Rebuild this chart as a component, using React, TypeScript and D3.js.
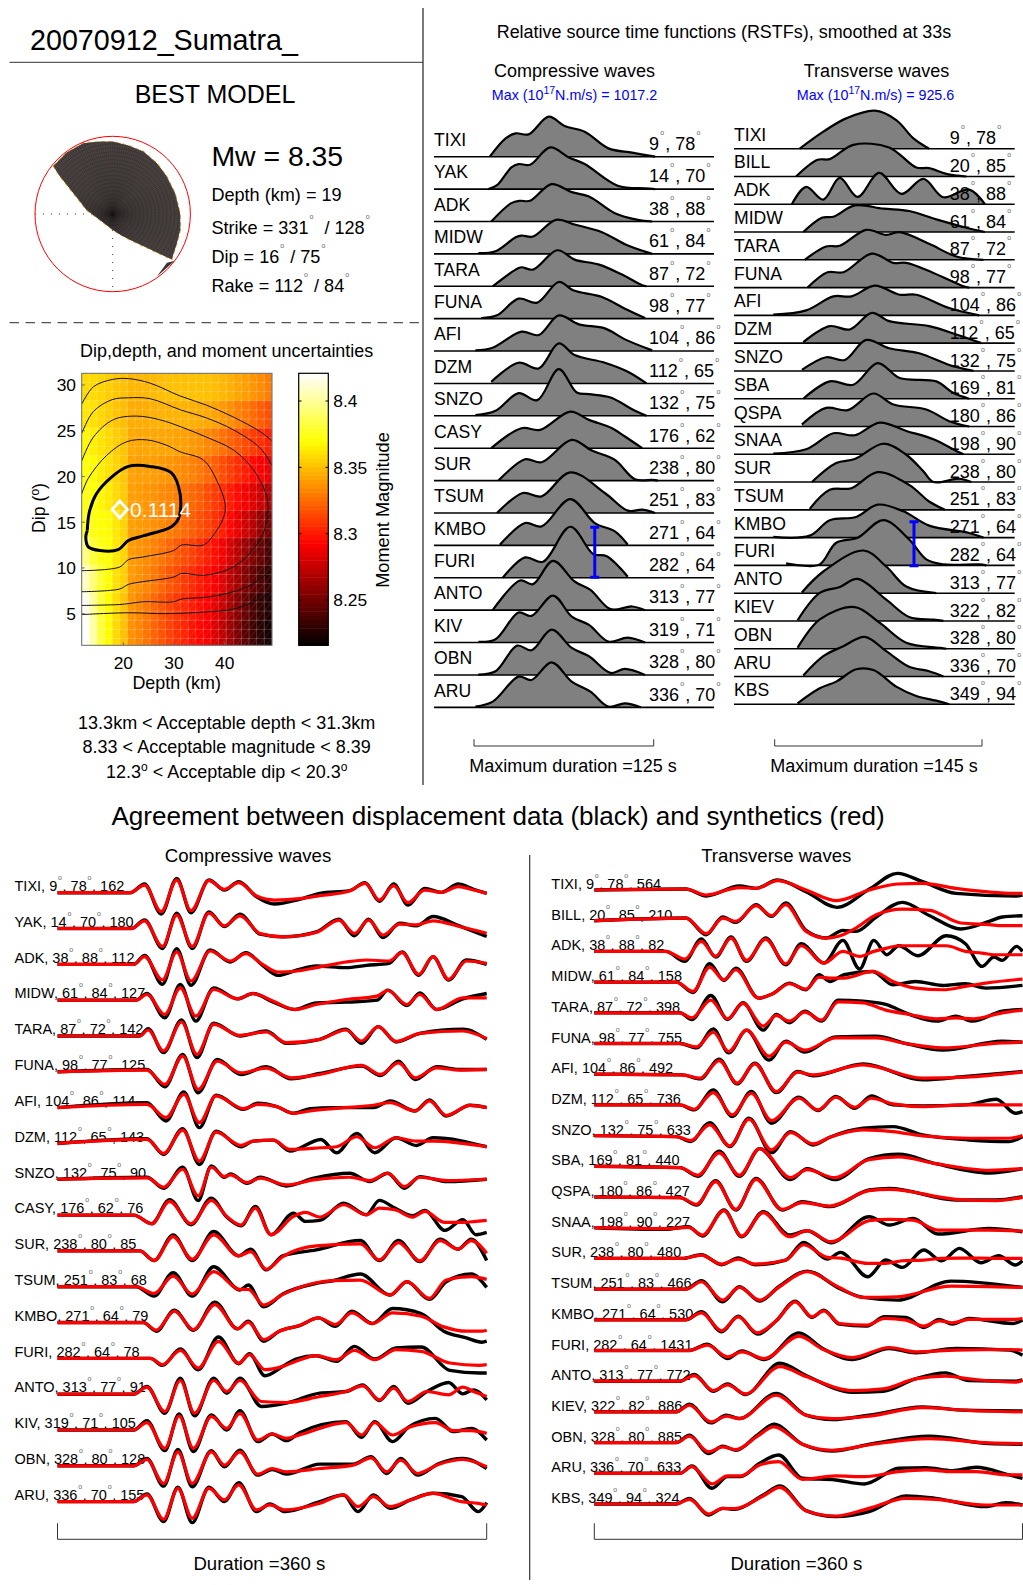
import React from "react";
import * as d3 from "d3";

const FONT = "'Liberation Sans', Arial, sans-serif";

// ---- stations: name, azimuth, distance, peak displacement (microns)
const pStations = ["TIXI","YAK","ADK","MIDW","TARA","FUNA","AFI","DZM","SNZO","CASY","SUR","TSUM","KMBO","FURI","ANTO","KIV","OBN","ARU"];
const pAzimuth = [9,14,38,61,87,98,104,112,132,176,238,251,271,282,313,319,328,336];
const pDistance = [78,70,88,84,72,77,86,65,75,62,80,83,64,64,77,71,80,70];
const pPeak = [162,180,112,127,142,125,114,143,90,76,85,68,79,78,91,105,128,155];

const sStations = ["TIXI","BILL","ADK","MIDW","TARA","FUNA","AFI","DZM","SNZO","SBA","QSPA","SNAA","SUR","TSUM","KMBO","FURI","ANTO","KIEV","OBN","ARU","KBS"];
const sAzimuth = [9,20,38,61,87,98,104,112,132,169,180,198,238,251,271,282,313,322,328,336,349];
const sDistance = [78,85,88,84,72,77,86,65,75,81,86,90,80,83,64,64,77,82,80,70,94];
const sPeak = [564,210,82,158,398,755,492,736,633,440,427,227,480,466,530,1431,772,886,885,633,324];

// ---- relative source time functions, time (s) and relative amplitude
const rstfPTimes = [
  [11,22,29,38,52,63,77,93.5,110,126],
  [10,16,26,31,39,53,66,77,100,119,126],
  [12,26,32,39,54,68,80,98,114,124],
  [3,15,29,33,41,57,70,89,107,124],
  [13,29,33,41,58,70,87,103,117,120],
  [5,16,31,44,59,69,89,105,119],
  [1,13,33,45,59,73,91,105,124],
  [12,31,45,59,70,91,107,120],
  [1,15,31,44,59,71.5,80,95,110,120],
  [12,33,46,67,80,96,105,117],
  [17,35.5,47,68,82,98,112,124,128],
  [16,34,47,67,91,107,117,126],
  [18,35.5,47,67,84,98,107],
  [20,35.5,48,67,83,92,107],
  [13,32,41,55,70,81,95,110,119],
  [3,15,31,40,55,68,80,93.5,107,119],
  [3,15,30,40,54,68,80,95,105,119],
  [1,13,31,40,54,68,81,93.5,105,116],
];
const rstfPAmps = [
  [0,55,70,67,120,92,75,25,12,0],
  [0,12,65,75,73,125,95,75,10,2,0],
  [0,55,62,62,112,88,75,25,5,0],
  [2,8,50,55,52,102,88,65,25,0],
  [0,50,57,50,108,80,65,35,3,0],
  [2,10,60,48,110,85,65,30,2],
  [2,10,58,48,107,80,68,35,2],
  [5,62,45,120,85,62,35,0],
  [2,15,68,47,140,70,65,55,20,0],
  [0,60,55,110,85,60,35,0],
  [0,64,55,122,90,62,4,2,0],
  [0,60,50,122,60,7,10,0],
  [2,67,57,139,67,42,2],
  [0,61,48,153,71,65,3],
  [0,89,78,148,86,61,3,11,0],
  [2,10,90,80,141,78,53,3,15,0],
  [1,11,88,74,136,81,56,6,18,0],
  [2,17,92,82,135,77,47,2,12,0],
];
const rstfSTimes = [
  [17.5,34,50,70,85,97,108],
  [15,30,38.5,55,80,99,108,120,134],
  [12,22,34,45.5,58,73,88.6,104,118,136,147],
  [20,33,41,56,76,94,113,134,147],
  [21,36,45.5,64,78,87.4,108,127,146],
  [23,37,48,68,83,92,111,132,136],
  [-1,22,41,53.6,70,87.4,99,122,143],
  [20,38.5,52.5,68,80,108,127,144.5],
  [19,36,49,64,80,101,122,139],
  [20,38.5,55,72,87.4,113,125,136],
  [19,36,51,69,83,106,122,136],
  [-1,22,41,56,73.4,92,111,127,132],
  [26,43,56,76,92,104,111,129,137.5],
  [24.5,38.5,53.6,72,94,108,119],
  [-1,24.5,38.5,57,72,90,108,136,146],
  [8,17.5,31.5,43,58,76,94,106,118,143,148],
  [19,34,62,78,92,113],
  [16,31.5,45.5,58,78,94,111,118],
  [16,31.5,56,73.4,92,115,120],
  [20,34,48,63,78,94,108,118],
  [16,31.5,43,57,69,85,99,113,122],
];
const rstfSAmps = [
  [0,51,91,114,86,31,0],
  [0,50,52,95,87,27,25,8,0],
  [0,52,14,79,22,94,31,76,21,44,0],
  [0,43,46,80,70,63,38,13,0],
  [0,40,42,90,75,83,48,10,0],
  [0,46,46,102,74,74,44,4,0],
  [2,15,57,57,89,62,62,22,0],
  [3,51,41,91,66,51,26,0],
  [3,41,33,93,68,53,18,0],
  [0,52,42,107,62,52,17,0],
  [6,56,49,99,66,51,16,0],
  [2,15,63,57,95,70,45,10,0],
  [0,57,69,115,82,32,0,10,0],
  [3,60,65,113,75,25,0],
  [2,6,52,62,99,79,36,14,0],
  [6,0,3,68,83,136,78,18,3,3,0],
  [2,65,128,80,20,0],
  [2,84,102,126,64,12,4,0],
  [3,88,125,78,18,3,0],
  [3,61,91,119,76,29,16,0],
  [3,48,68,105,103,53,25,11,0],
];

// ---- P waveforms: sample time (s), data and synthetic amplitude
const pwTimes = [
  [0,61,73,87,100,112,127,140,152,167,182,203,220,245,258,270,282,294,308,322,336,349,360],
  [0,62,73,88,100,113,127,140,153,170,189,217,236,249,261,273,287,301,315,337,360],
  [0,64,73,88,100,112,128,145,158,172,185,201,217,242,259,278,289,303,315,328,343,360],
  [0,66,75,90,103,116,131,151,164,181,199,217,242,268,277,293,304,318,340,360],
  [0,69,76,89,104,117,131,153,175,192,220,242,255,269,284,304,340,360],
  [0,75,90,105,118,134,154,175,196,220,255,271,286,300,318,337,360],
  [0,75,91,106,119,133,156,168,184,198,212,231,265,279,300,312,326,346,360],
  [0,75,89,105,119,133,154,164,181,195,221,234,251,266,284,301,315,360],
  [0,75,89,105,118,129,140,145,159,170,192,215,245,262,277,291,304,327,360],
  [0,64,79,94,112,129,142,154,166,179,198,208,220,240,259,270,283,298,308,325,340,351,360],
  [0,69,81,97,113,131,152,162,175,189,217,254,270,286,304,321,336,347,360],
  [0,66,81,97,113,131,153,160,173,189,217,231,254,279,293,312,326,347,360],
  [0,72,83,98,114,132,151,160,173,186,203,219,233,247,264,281,305,324,343,356,360],
  [0,78,88,103,118,135,152,161,174,189,200,217,234,249,266,284,305,329,354,360],
  [0,64,75,90,103,115,131,142,153,171,192,220,242,256,270,282,294,310,328,340,349,360],
  [0,64,75,90,102,114,129,142,153,168,180,192,203,242,255,266,281,295,317,332,347,360],
  [0,64,75,89,101,113,129,140,153,168,180,192,220,248,263,276,288,302,320,340,360],
  [0,64,75,89,101,113,127,140,152,167,178,191,220,240,252,265,279,296,315,339,353,360],
];
const pwBlack = [
  [0,0,26,-64,43,-60,38,8,33,-12,-34,-20,-2,6,30,-26,26,-37,13,1,26,10,-2],
  [0,0,26,-60,46,-60,50,6,43,-17,-25,-10,28,-22,28,-27,16,8,36,8,-24],
  [0,0,27,-60,47,-63,43,7,35,-3,-33,-17,-5,-10,-3,3,37,-33,23,-47,13,0],
  [0,0,20,-53,47,-63,37,4,20,-6,-28,-8,-6,0,30,-16,22,-28,4,20],
  [0,0,22,-50,48,-65,38,0,15,-22,-10,20,-22,28,-18,8,20,-10],
  [0,7,-45,52,-63,37,-8,15,-21,-5,17,-11,32,-23,15,7,7],
  [0,15,-40,47,-60,37,-5,13,3,-17,-3,0,0,20,-10,23,-25,7,0],
  [0,14,-33,44,-63,37,-10,7,10,-23,12,-28,30,-28,17,-6,17,-10],
  [0,6,-27,36,-64,40,6,16,-12,6,-20,3,18,-7,18,-27,8,-7,0],
  [0,0,-26,46,-29,51,-6,-32,26,-59,6,-19,-16,36,1,44,21,-2,14,-46,-14,-59,-52],
  [0,0,-29,48,-29,58,-15,5,-57,-15,3,31,-29,31,-32,35,5,35,-29],
  [0,0,-28,42,-28,60,-10,5,-60,-22,10,18,38,-25,15,-38,15,38,-2],
  [0,0,-26,37,-23,61,-19,4,-56,-26,-9,14,-11,34,-3,42,27,-26,-46,-59,-56],
  [0,0,-21,28,-34,64,-16,14,-52,-24,-2,8,-9,36,-2,31,34,-36,-44,-44],
  [0,0,23,-57,48,-65,48,3,48,-37,-27,3,8,28,-19,23,-27,8,35,1,13,-17],
  [0,0,28,-62,48,-65,45,0,58,-35,-12,-32,-8,25,-22,25,-35,10,35,-5,5,-30],
  [0,0,22,-61,49,-63,45,-3,47,-28,-11,-25,5,5,27,-23,22,-28,7,22,-8],
  [0,0,23,-60,43,-63,43,0,57,-30,-7,-30,0,20,-30,20,-20,5,25,15,-30,-3],
];
const pwRed = [
  [0,0,23,-57,38,-54,36,10,30,-10,-22,-18,-9,5,28,-22,21,-30,8,1,18,8,-2],
  [0,0,23,-54,40,-54,46,8,38,-15,-25,-12,25,-15,25,-20,13,11,23,6,-14],
  [0,0,23,-47,37,-50,40,10,32,0,-23,-20,-10,7,13,10,35,-30,23,-45,10,3],
  [0,0,17,-43,37,-48,32,4,20,-3,-28,-13,2,12,29,-13,17,-28,7,7],
  [0,0,18,-45,42,-55,35,2,12,-20,-10,18,-15,28,-16,8,15,-8],
  [0,5,-38,47,-53,32,-3,11,-18,-8,19,-8,27,-18,12,5,7],
  [0,10,-30,40,-45,35,-3,10,3,-17,-10,-3,7,15,-10,20,-23,7,0],
  [0,12,-30,40,-53,34,-6,7,10,-18,-13,-10,20,-13,17,7,7,-10],
  [0,4,-24,30,-50,36,8,13,-10,3,-17,-2,6,-4,18,-22,6,-4,0],
  [0,0,-26,41,-26,44,-4,-30,21,-59,-4,8,-6,31,1,21,16,-6,11,-22,-22,-19,-16],
  [0,0,-29,43,-25,48,-15,-2,-55,-17,15,21,-27,25,-30,31,5,31,-7],
  [0,0,-20,32,-22,45,-8,-8,-55,-23,12,18,20,-25,15,-35,20,30,22],
  [0,0,-23,34,-21,54,-19,1,-51,-26,-9,14,-6,29,-3,29,19,-13,-26,-26,-23],
  [0,0,-19,24,-29,51,-14,11,-34,-24,-9,8,-4,24,-4,26,21,-14,-21,-19],
  [0,0,21,-52,41,-57,41,8,41,-22,-25,-7,8,25,-17,18,-22,8,-2,21,8,-7],
  [0,0,22,-55,42,-55,40,5,50,-30,-12,-25,-15,22,-15,22,-15,8,22,-2,-2,-10],
  [0,0,19,-53,42,-53,42,2,42,-25,-8,-18,-8,2,24,-18,17,-23,5,19,-3],
  [0,0,20,-53,40,-50,40,5,50,-25,-10,-25,-5,20,-15,15,-15,5,25,0,-5,-10],
];

// ---- SH waveforms
const swTimes = [
  [0,77,94,122,136,154,178,204,231,255,276,304,354,360],
  [0,77,94,108,119,136,149,161,178,195,209,220,237,259,282,308,332,343,360],
  [0,60,76,90,102,115,128,144,161,174,193,209,223,235,246,256,272,296,312,326,336,343,355,360],
  [0,69,83,97,109,119,138,150,164,178,189,198,210,234,251,270,293,312,329,360],
  [0,72,82,98,112,125,142,153,164,177,191,205,226,245,265,288,304,318,343,360],
  [0,72,86,100,113,128,147,161,177,203,237,262,293,343,360],
  [0,74,89,105,120,135,153,171,184,226,276,312,360],
  [0,72,84,100,116,132,149,172,188,203,219,233,251,276,312,338,354,360],
  [0,69,81,97,114,130,149,165,184,198,226,251,276,315,349,360],
  [0,72,87,105,122,139,165,179,202,231,256,287,332,360],
  [0,72,86,102,119,136,158,175,198,231,248,304,338,360],
  [0,60,79,91,109,124,142,164,179,199,231,248,268,289,332,360],
  [0,74,90,107,121,135,161,176,196,207,230,245,259,277,292,307,325,340,354,360],
  [0,77,90,108,122,139,155,179,206,226,255,300,360],
  [0,77,90,107,121,137,153,169,183,193,206,229,244,262,277,290,301,315,352,360],
  [0,80,95,112,124,143,172,192,217,248,270,304,349,360],
  [0,72,84,100,112,127,156,178,217,243,270,295,315,354,360],
  [0,69,80,98,111,122,153,178,200,231,276,312,360],
  [0,69,80,96,108,119,137,151,175,200,234,282,332,360],
  [0,72,82,99,112,123,139,155,175,203,227,256,279,301,321,349,360],
  [0,69,80,96,108,118,142,156,178,203,231,262,287,329,346,360],
];
const swBlack = [
  [0,3,-18,12,5,30,-5,-52,2,50,25,-10,-18,-15],
  [0,8,-42,11,-5,48,13,53,-29,-52,-29,-32,11,55,15,-25,-2,11,15],
  [0,0,-30,37,-17,43,-30,40,-40,23,-35,33,-53,33,-10,17,-13,47,23,-45,-17,-27,15,0],
  [0,0,-31,55,5,42,-48,-35,-3,-23,22,2,22,32,-8,2,-10,-5,-18,-10],
  [0,0,-20,52,-20,30,-52,-5,-30,5,-25,38,35,25,-5,-25,-10,-25,5,10],
  [0,0,-13,44,-28,40,-50,7,-26,20,22,0,-20,7,4],
  [0,-2,-14,45,-29,33,-55,8,-5,31,-17,-7,8],
  [0,0,-15,45,-35,40,-55,23,-17,25,-10,27,0,-3,0,17,-25,-20],
  [0,-3,-18,39,-33,52,-51,12,-28,-5,22,27,2,-13,-18,-3],
  [0,-4,-30,45,-30,53,-40,-7,-40,23,36,8,-20,-7],
  [0,-2,-24,49,-39,56,-39,-14,-29,21,26,-9,-9,1],
  [0,-5,3,-25,53,-27,48,-22,-9,-45,33,8,28,-19,-2,-12],
  [0,0,11,-19,1,-19,-5,48,-2,18,-55,-5,-27,25,-7,30,-13,8,-20,-7],
  [0,0,25,-38,7,-36,7,54,2,-25,-33,24,5],
  [0,0,24,-36,11,-43,-3,56,7,29,-13,-19,9,7,-23,1,-13,4,-11,-1],
  [0,0,19,-24,-1,-27,53,6,-27,6,-7,6,1,-14],
  [0,0,20,-30,-8,-40,54,17,-33,-30,7,25,2,0,4],
  [0,0,23,-33,-10,-20,55,-10,-23,-10,15,5,3],
  [0,0,22,-33,-11,-23,22,55,-5,-25,-3,19,-3,-5],
  [0,0,22,-45,-10,-10,30,55,-15,-20,-32,15,17,8,18,-5,-15],
  [0,0,17,-33,-13,-16,27,54,-20,-38,-23,24,17,-8,4,-3],
];
const swRed = [
  [0,3,-15,7,5,28,0,-32,0,18,20,5,-10,-10],
  [0,8,-39,8,-2,45,15,48,-32,-52,-42,-22,18,35,31,-7,-12,-15,-15],
  [0,0,-23,30,-15,40,-27,37,-37,17,-35,0,-15,0,10,17,17,17,0,-5,-10,-10,-10,-10],
  [0,0,-28,45,7,37,-48,-35,-5,-21,15,12,12,32,2,-18,-23,-13,-3,9],
  [0,0,-15,38,-18,28,-40,-8,-25,2,-22,33,30,8,-5,-18,-15,-18,0,8],
  [0,0,-10,34,-24,40,-38,4,-20,17,17,0,-13,2,4],
  [0,-2,-12,41,-27,31,-52,6,-2,28,-12,-9,6],
  [0,0,-13,37,-30,35,-47,20,-15,23,-7,20,3,-5,0,0,0,0],
  [0,-3,-15,32,-31,49,-43,9,-25,-5,17,12,-1,-8,-8,0],
  [0,-4,-27,40,-27,53,-34,-10,-34,20,28,8,-12,-7],
  [0,-2,-22,46,-37,53,-37,-17,-27,19,23,-7,-11,-1],
  [0,-3,1,-22,51,-25,45,-27,-9,-42,21,25,23,-7,-7,-10],
  [0,0,10,-17,-2,-17,-5,41,3,1,-15,-15,-7,-5,0,1,1,0,0,0],
  [0,0,22,-33,5,-33,5,52,5,-25,-23,9,5],
  [0,0,21,-33,9,-39,-3,54,9,27,-11,-16,4,-1,-19,-3,-9,1,1,4],
  [0,0,16,-19,-4,-24,43,4,-21,9,-4,1,3,1],
  [0,0,17,-28,-11,-38,44,14,-28,-23,7,15,7,-3,2],
  [0,0,20,-30,-13,-20,50,-10,-20,-13,13,5,0],
  [0,0,19,-28,-13,-21,19,47,-5,-23,-5,12,-1,-3],
  [0,0,20,-32,-8,-8,25,35,-18,-8,-10,5,10,5,5,-5,-5],
  [0,0,14,-30,-13,-14,24,50,-20,-36,-13,17,14,-3,-3,-3],
];

// ---- dip/depth grid: moment magnitude, each row is a 3 degree band (top = 30 deg), Mw = 8 + v/1000
const gridDepthStart = 11.8;
const gridDepthStep = 1.5;
const gridDipTop = 31.28;
const gridDipStep = 3;
const gridMw = [
  [358,358,356,354,352,350,347,347,347,348,349,350,350,350,350,350,350,349,347,345,342,340,337,334,330],
  [362,360,357,354,351,349,344,344,344,345,346,346,346,346,345,344,343,341,338,335,331,328,324,320,316],
  [367,364,361,358,354,351,343,342,342,342,342,342,341,340,338,336,333,330,326,322,318,314,310,306,302],
  [370,368,364,360,356,352,341,340,340,339,338,337,335,333,331,328,324,320,315,310,305,300,295,290,286],
  [372,370,367,363,358,353,340,339,337,336,334,332,329,326,323,320,315,310,305,300,295,289,283,276,270],
  [376,372,369,368,362,356,340,339,337,335,333,330,327,324,320,316,312,307,301,294,286,278,270,260,252],
  [395,380,372,369,362,356,339,337,334,331,327,323,319,315,311,306,301,296,289,280,271,262,254,246,238],
  [408,392,378,369,360,355,339,336,332,328,323,318,314,309,305,300,296,290,283,273,264,255,246,239,232],
  [418,400,380,368,359,351,337,333,328,323,318,313,308,304,300,296,292,285,276,266,256,247,238,231,226],
  [420,402,381,368,358,350,336,332,327,322,317,312,307,303,298,294,290,282,273,263,253,243,235,228,222],
];

// contours of misfit, [depth km, dip deg]
const bestContour = [[12.9,14.1],[13.3,16.1],[14.7,18.1],[17.4,19.8],[21,21.1],[25.3,21.1],[29.5,20.4],[31.2,18.1],[30.9,15.4],[29.5,14.5],[23.9,13.5],[21,13],[19,12],[15.4,11.9],[13.1,12.3],[12.6,13.4],[12.9,14.1]];
const thinContours = [
  [[11.8,18.1],[13.1,19.8],[16.7,22.3],[20.7,23.8],[24.6,24],[28.6,23.4],[31.2,22.7],[35.8,21.8],[38.4,19.6],[40.1,16.9],[39.7,15.4],[37.8,13.6],[35.8,12.5],[31.5,12.5],[29.9,11.9],[23.9,11.2],[21,10.9],[19.3,10.1],[11.8,9.7]],
  [[11.8,21.7],[14.1,24.3],[18,26.2],[22.6,26.6],[27.2,26.2],[31.5,25.4],[36.4,24.3],[41.7,22.9],[45.7,20.7],[48.3,17.8],[48.5,16.1],[47.6,13.8],[45,11.6],[41,9.9],[35.8,9.2],[31.5,9.4],[29.9,9],[23.9,8.5],[21,8.2],[19.3,7.7],[11.8,7.4]],
  [[11.8,24.7],[14.1,27.1],[17.8,28.4],[21,28.6],[25.3,28.5],[31.2,27.3],[36.4,26.4],[41.7,25.1],[47,23.1],[49.3,21.2]],
  [[49.3,9.9],[45.7,8.3],[41.7,7.4],[36.4,6.8],[31.5,6.6],[29.9,6.3],[23.9,6.3],[21,6.1],[19.3,6],[11.8,5.9]],
  [[11.8,27.9],[14.1,29.8],[17.8,30.6],[21,30.7],[25.3,30.2],[31.2,28.8],[36.4,27.8],[41.7,26.5],[47,24.9],[49.3,23.9]],
  [[49.3,7.4],[45.7,6.3],[41.7,5.5],[36.4,5.2],[28.6,5],[21,5.1],[11.8,4.9]],
];
const depthTicks = [20,30,40];
const dipTicks = [5,10,15,20,25,30];
const mwTicks = [8.25,8.3,8.35,8.4];
const bestDepth = 19.3;
const bestDip = 16.4;

// focal mechanism outline: [azimuth deg, radius fraction]
const mechanismOutline = [[309,0.98],[323,0.987],[337.5,0.985],[350,0.945],[0.5,0.93],[13,0.903],[26,0.894],[41,0.864],[55,0.845],[71.7,0.845],[90,0.867],[103,0.892],[114.6,0.906],[127.5,0.957],[129,0.86],[130,0.8],[134.7,0.615],[146,0.4],[160,0.28],[178,0.206],[279,0.34],[295,0.51],[300,0.62],[302.5,0.7],[305.6,0.833],[307,0.89]];
const mechanismSliver = [[145,0.987],[127,1],[132,0.94]];

// ---- helpers
const hot = (t: number) => {
  const c = (v: number) => Math.round(255 * Math.max(0, Math.min(1, v)));
  return d3.rgb(c(t / 0.375), c((t - 0.375) / 0.375), c((t - 0.75) / 0.25)).formatRgb();
};
const mwColorT = d3.scaleLinear().domain([8.216, 8.42]).range([0, 1]);

const waveLine = d3.line<[number, number]>().curve(d3.curveMonotoneX);
const rstfLine = d3.line<[number, number]>().curve(d3.curveCatmullRom.alpha(0.5));
const rstfArea = d3.area<[number, number]>().curve(d3.curveCatmullRom.alpha(0.5));

function T({ x, y, size = 18, anchor = "start", fill = "#000", children, rot }: any) {
  return (
    <text x={x} y={y} fontSize={size} textAnchor={anchor} fill={fill} fontFamily={FONT}
      style={{ whiteSpace: "pre" }} transform={rot ? `rotate(${rot} ${x} ${y})` : undefined}>
      {children}
    </text>
  );
}

// pieces of text with the small raised ring that MATLAB draws for ^o between them
function ringed(parts: string[], rise: number, pre = 1, post = 1, size = 7) {
  const out: any[] = [parts[0]];
  parts.slice(1).forEach((p, i) => {
    out.push(<tspan key={i + "r"} dx={pre} dy={-rise} fontSize={size} fill="#666">o</tspan>);
    if (p !== "") out.push(<tspan key={i + "t"} dx={post} dy={rise}>{p}</tspan>);
  });
  return out;
}

function Bracket({ x0, x1, y, tick }: any) {
  return <path d={`M${x0},${y - tick}V${y}H${x1}V${y - tick}`} fill="none" stroke="#333" strokeWidth={1} />;
}

function RstfPanel({ stations, az, dist, times, amps, x0, pxPerS, firstBase, stepBase, lineX0, lineX1, nameDy, labelDy, labelX, bar }: any) {
  const x = d3.scaleLinear().domain([0, 100]).range([x0, x0 + 100 * pxPerS]);
  const h = d3.scaleLinear().domain([0, 150]).range([0, 50]);
  const base = d3.scaleLinear().domain([0, 1]).range([firstBase, firstBase + stepBase]);
  return (
    <g>
      {stations.map((s: string, i: number) => {
        const b = base(i);
        // never below the baseline where the spline undershoots
        const pts = times[i].map((t: number, k: number) => [x(t), b - h(amps[i][k])]);
        rstfArea.y0(b).x((d) => d[0]).y1((d) => d[1]);
        rstfLine.x((d) => d[0]).y((d) => d[1]);
        return (
          <g key={s + i}>
            <path d={rstfArea(pts as any) as string} fill="#808080" />
            <path d={rstfLine(pts as any) as string} fill="none" stroke="#000" strokeWidth={2.2} strokeLinejoin="round" />
            <line x1={lineX0} x2={lineX1} y1={b} y2={b} stroke="#000" strokeWidth={1.6} />
            <T x={lineX0} y={b + nameDy} size={17.6}>{s}</T>
            <T x={labelX} y={b + labelDy} size={18}>
              {ringed([`${az[i]}`, `, ${dist[i]}`, ""], 15, 1.2, 1.2)}
            </T>
          </g>
        );
      })}
      <path d={`M${x(bar.t) - 4.5},${bar.y0}h9M${x(bar.t)},${bar.y0}V${bar.y1}M${x(bar.t) - 4.5},${bar.y1}h9`} fill="none" stroke="#0000ff" strokeWidth={3} />
    </g>
  );
}

function WavePanel({ stations, az, dist, peak, times, black, red, x0, x1, firstBase, stepBase, textX, textDy }: any) {
  const x = d3.scaleLinear().domain([0, 360]).range([x0, x1]);
  const a = d3.scaleLinear().domain([-60, 60]).range([20, -20]);
  const base = d3.scaleLinear().domain([0, 1]).range([firstBase, firstBase + stepBase]);
  const mk = (i: number, vals: number[]) => {
    waveLine.x((d) => d[0]).y((d) => d[1]);
    return waveLine(times[i].map((t: number, k: number) => [x(t), base(i) + a(vals[k])]) as any) as string;
  };
  return (
    <g>
      {stations.map((s: string, i: number) => (
        <T key={s + i} x={textX} y={base(i) + textDy} size={14.5}>
          {ringed([`${s}, ${az[i]}`, `, ${dist[i]}`, `, ${peak[i]}`], 11, 0.8, 0.6)}
        </T>
      ))}
      {stations.map((s: string, i: number) => (
        <g key={s + i + "w"} fill="none" strokeLinejoin="round" strokeLinecap="butt">
          <path d={mk(i, black[i])} stroke="#000" strokeWidth={3.4} />
          <path d={mk(i, red[i])} stroke="#ff0000" strokeWidth={3.2} />
        </g>
      ))}
    </g>
  );
}

function Heatmap() {
  const x = d3.scaleLinear().domain([20, 30]).range([123.3, 174]);
  const y = d3.scaleLinear().domain([30, 15]).range([385, 522.2]);
  const L = 81.7, R = 272, Tp = 373.3, B = 645.3;
  const contour = d3.line<number[]>().x((d) => x(d[0])).y((d) => y(d[1])).curve(d3.curveCatmullRom.alpha(0.5));
  const colEdges = d3.range(26).map((i) => x(gridDepthStart + i * gridDepthStep));
  const rowEdges = d3.range(31).map((i) => y(gridDipTop - i));
  const cb = d3.scaleLinear().domain([8.25, 8.4]).range([600, 401]);
  const cbLevels = d3.range(64);
  return (
    <g>
      <clipPath id="hm"><rect x={L} y={Tp} width={R - L} height={B - Tp} /></clipPath>
      <g clipPath="url(#hm)">
        {gridMw.map((row, r) =>
          row.map((v, c) => (
            <rect key={r + "-" + c}
              x={x(gridDepthStart + c * gridDepthStep)}
              y={y(gridDipTop - r * gridDipStep)}
              width={x(gridDepthStart + (c + 1) * gridDepthStep) - x(gridDepthStart + c * gridDepthStep) + 0.5}
              height={y(gridDipTop - gridDipStep) - y(gridDipTop) + 0.5}
              fill={hot(mwColorT(8 + v / 1000))} />
          ))
        )}
        <g stroke="#fff" strokeOpacity={0.28} strokeWidth={0.7}>
          {colEdges.map((e, i) => <line key={"v" + i} x1={e} x2={e} y1={Tp} y2={B} />)}
          {rowEdges.map((e, i) => <line key={"h" + i} x1={L} x2={R} y1={e} y2={e} />)}
          {colEdges.slice(0, -1).map((e, i) =>
            rowEdges.slice(0, -1).map((f, j) => (
              <line key={"d" + i + "-" + j} x1={e} y1={rowEdges[j + 1]} x2={colEdges[i + 1]} y2={f} strokeOpacity={0.16} />
            ))
          )}
        </g>
        {thinContours.map((c, i) => <path key={i} d={contour(c) as string} fill="none" stroke="#111" strokeWidth={1} />)}
        <path d={contour(bestContour) as string} fill="none" stroke="#000" strokeWidth={3} />
      </g>
      <rect x={L} y={Tp} width={R - L} height={B - Tp} fill="none" stroke="#666" strokeWidth={1} />
      {depthTicks.map((d) => (
        <g key={d}>
          <line x1={x(d)} x2={x(d)} y1={B} y2={B - 3} stroke="#666" />
          <T x={x(d)} y={668.5} size={17.4} anchor="middle">{d}</T>
        </g>
      ))}
      {dipTicks.map((d) => (
        <g key={d}>
          <line x1={L} x2={L + 3} y1={y(d)} y2={y(d)} stroke="#666" />
          <T x={76} y={y(d) + 6.3} size={17.4} anchor="end">{d}</T>
        </g>
      ))}
      <path d={`M${x(bestDepth)},${y(bestDip) - 8.5}l7.5,8.5l-7.5,8.5l-7.5,-8.5z`} fill="none" stroke="#fff" strokeWidth={3} />
      <T x={130} y={516.7} size={21} fill="#fff">0.1114</T>

      {/* colorbar */}
      {cbLevels.map((i) => (
        <rect key={i} x={298.7} width={29.6} y={Tp + ((B - Tp) * (63 - i)) / 64} height={(B - Tp) / 64 + 0.5} fill={hot((i + 0.5) / 64)} />
      ))}
      <rect x={298.7} y={Tp} width={29.6} height={B - Tp} fill="none" stroke="#000" strokeWidth={1.2} />
      {mwTicks.map((m) => (
        <g key={m}>
          <line x1={298.7} x2={301.5} y1={cb(m)} y2={cb(m)} stroke="#000" />
          <line x1={325.5} x2={328.3} y1={cb(m)} y2={cb(m)} stroke="#000" />
          <T x={333.3} y={cb(m) + 6.3} size={17.4}>{String(m)}</T>
        </g>
      ))}
    </g>
  );
}

function Mechanism() {
  const cx = 112.7, cy = 214, R = 77.7;
  const rad = d3.lineRadial<number[]>().angle((d) => (d[0] * Math.PI) / 180).radius((d) => d[1] * R).curve(d3.curveLinearClosed);
  const main = rad(mechanismOutline) as string;
  const spokes = d3.range(0, 360, 2);
  const rings = d3.range(0.1, 1, 0.05);
  return (
    <g transform={`translate(${cx},${cy})`}>
      <clipPath id="mech"><path d={main} /></clipPath>
      <line x1={-R} x2={0} y1={0} y2={0} stroke="#333" strokeDasharray="1 7" />
      <line x1={0} x2={0} y1={0} y2={R} stroke="#333" strokeDasharray="1 7" />
      <path d={main} fill="#4a4341" stroke="#d9a441" strokeWidth={1.6} strokeDasharray="4 3" />
      <path d={main} fill="#4a4341" />
      <g clipPath="url(#mech)" stroke="#262220" strokeWidth={0.5} strokeOpacity={0.55} fill="none">
        {spokes.map((a) => (
          <line key={a} x1={0} y1={0} x2={R * Math.sin((a * Math.PI) / 180)} y2={-R * Math.cos((a * Math.PI) / 180)} />
        ))}
        {rings.map((r) => <circle key={r} r={r * R} />)}
      </g>
      <path d={rad(mechanismSliver) as string} fill="#3a3533" />
      <circle r={R} fill="none" stroke="#f00" strokeWidth={1} />
      <circle r={1.6} fill="#111" />
    </g>
  );
}

export default function App() {
  return (
    <svg width={1023} height={1585} viewBox="0 0 1023 1585" style={{ position: "absolute", left: 0, top: 0, display: "block", background: "#fff" }}>
      {/* frame lines */}
      <line x1={9.5} x2={423} y1={62.3} y2={62.3} stroke="#333" strokeWidth={1} />
      <line x1={423} x2={423} y1={8} y2={785} stroke="#222" strokeWidth={1.2} />
      <line x1={9.5} x2={423} y1={322.7} y2={322.7} stroke="#555" strokeWidth={1.2} strokeDasharray="9.5 6.5" />
      <line x1={529.7} x2={529.7} y1={855} y2={1580} stroke="#333" strokeWidth={1.2} />

      {/* summary */}
      <T x={30} y={50} size={28.7}>20070912_Sumatra_</T>
      <T x={215} y={102.7} size={25} anchor="middle">BEST MODEL</T>
      <Mechanism />
      <T x={211.4} y={165.7} size={28.4}>Mw = 8.35</T>
      <T x={211.4} y={201} size={18.1}>Depth (km) = 19</T>
      <T x={211.4} y={234} size={18.1}>{ringed(["Strike = 331", "  / 128", ""], 15)}</T>
      <T x={211.4} y={263.3} size={18.1}>{ringed(["Dip = 16", " / 75", ""], 15)}</T>
      <T x={211.4} y={292.3} size={18.1}>{ringed(["Rake = 112", " / 84", ""], 15)}</T>

      {/* uncertainty map */}
      <T x={226.7} y={356.7} size={17.95} anchor="middle">Dip,depth, and moment uncertainties</T>
      <Heatmap />
      <T x={176.7} y={689} size={17.9} anchor="middle">Depth (km)</T>
      <T x={44.5} y={508} size={17.7} anchor="middle" rot={-90}>Dip (<tspan dy={-6} fontSize={12}>o</tspan><tspan dy={6}>)</tspan></T>
      <T x={388.5} y={510} size={18.2} anchor="middle" rot={-90}>Moment Magnitude</T>
      <T x={226.7} y={729} size={18} anchor="middle">13.3km &lt; Acceptable depth &lt; 31.3km</T>
      <T x={226.7} y={753.3} size={18} anchor="middle">8.33 &lt; Acceptable magnitude &lt; 8.39</T>
      <T x={226.7} y={777.7} size={18} anchor="middle">12.3<tspan dy={-7} fontSize={12}>o</tspan><tspan dy={7}> &lt; Acceptable dip &lt; 20.3</tspan><tspan dy={-7} fontSize={12}>o</tspan></T>

      {/* RSTFs */}
      <T x={724} y={37.5} size={17.95} anchor="middle">Relative source time functions (RSTFs), smoothed at 33s</T>
      <T x={574.5} y={76.5} size={18} anchor="middle">Compressive waves</T>
      <T x={876.5} y={76.5} size={18} anchor="middle">Transverse waves</T>
      <T x={574.5} y={99.5} size={14.3} anchor="middle" fill="#0000ff">Max (10<tspan dy={-6} fontSize={10.5}>17</tspan><tspan dy={6}>N.m/s) = 1017.2</tspan></T>
      <T x={875.5} y={99.5} size={14.3} anchor="middle" fill="#0000ff">Max (10<tspan dy={-6} fontSize={10.5}>17</tspan><tspan dy={6}>N.m/s) = 925.6</tspan></T>

      <RstfPanel stations={pStations} az={pAzimuth} dist={pDistance} times={rstfPTimes} amps={rstfPAmps}
        x0={474} pxPerS={1.4375} firstBase={156.7} stepBase={32.39} lineX0={434} lineX1={714}
        nameDy={-10.7} labelDy={-6.7} labelX={649} bar={{ t: 84, y0: 527.3, y1: 577.3 }} />
      <RstfPanel stations={sStations} az={sAzimuth} dist={sDistance} times={rstfSTimes} amps={rstfSAmps}
        x0={774.7} pxPerS={1.43} firstBase={148.7} stepBase={27.78} lineX0={734} lineX1={1014.7}
        nameDy={-8} labelDy={-4.4} labelX={949.7} bar={{ t: 97.4, y0: 521.7, y1: 565.7 }} />

      <Bracket x0={474} x1={653.7} y={746} tick={6.7} />
      <Bracket x0={774.7} x1={982} y={746} tick={6.7} />
      <T x={573} y={771.7} size={18} anchor="middle">Maximum duration =125 s</T>
      <T x={874} y={771.7} size={18} anchor="middle">Maximum duration =145 s</T>

      {/* waveform fits */}
      <T x={498} y={824.5} size={26.05} anchor="middle">Agreement between displacement data (black) and synthetics (red)</T>
      <T x={248} y={861.7} size={18.6} anchor="middle">Compressive waves</T>
      <T x={776.3} y={861.7} size={18.6} anchor="middle">Transverse waves</T>

      <WavePanel stations={pStations} az={pAzimuth} dist={pDistance} peak={pPeak} times={pwTimes} black={pwBlack} red={pwRed}
        x0={57.5} x1={486.7} firstBase={892.7} stepBase={35.82} textX={14.5} textDy={-1.7} />
      <WavePanel stations={sStations} az={sAzimuth} dist={sDistance} peak={sPeak} times={swTimes} black={swBlack} red={swRed}
        x0={594.3} x1={1022.5} firstBase={890} stepBase={30.7} textX={551.3} textDy={-1} />

      <Bracket x0={57.5} x1={486.7} y={1539.3} tick={16} />
      <Bracket x0={594.3} x1={1022.5} y={1539.3} tick={16} />
      <T x={259.3} y={1570} size={18.6} anchor="middle">Duration =360 s</T>
      <T x={796.3} y={1570} size={18.6} anchor="middle">Duration =360 s</T>
    </svg>
  );
}
